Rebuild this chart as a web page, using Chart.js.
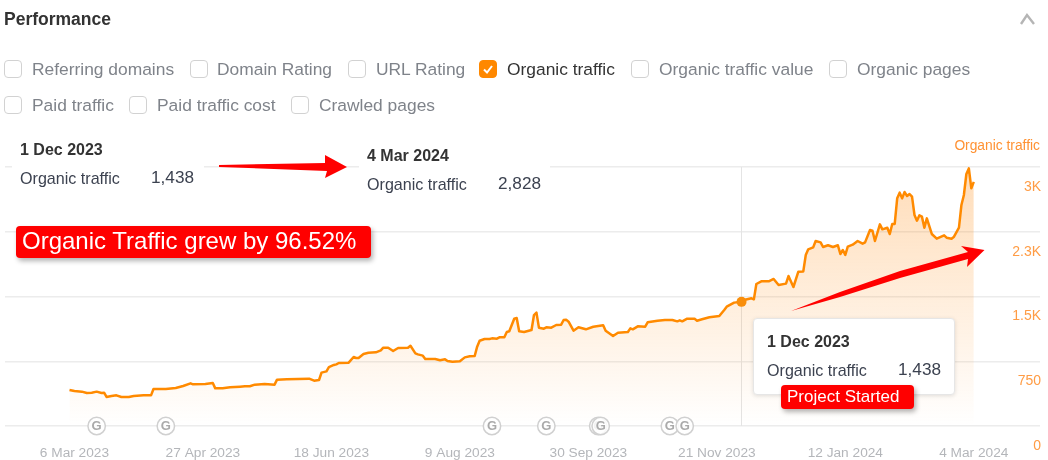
<!DOCTYPE html>
<html><head><meta charset="utf-8">
<script src="https://cdn.jsdelivr.net/npm/chart.js@4/dist/chart.umd.min.js"></script>
<style>
html,body{margin:0;padding:0;background:#fff;width:1048px;height:460px;overflow:hidden;font-family:"Liberation Sans",Arial,sans-serif}
#wrap{position:relative;width:1048px;height:460px}
canvas{position:absolute;left:0;top:0}
.t{position:absolute;white-space:nowrap;line-height:1;transform:translateY(-50%)}
.cb{position:absolute;width:16px;height:16px;border:1px solid #d2d2d2;border-radius:4px;background:#fff}
.lab{font-size:17.4px;color:#7f838a}
.mask{position:absolute;background:#fff}
.b{font-weight:bold;font-size:16px;color:#333}
.n{font-size:16.1px;color:#3c4250}
.v{font-size:17.2px;color:#3c4250}
.red{position:absolute;background:#f00;color:#fff;border-radius:4px;box-shadow:2px 3px 5px rgba(0,0,0,.3);white-space:nowrap}
svg{position:absolute;left:0;top:0}
</style></head><body><div id="wrap">
<canvas id="c" width="1048" height="460"></canvas>
<div class="mask" style="left:12px;top:135px;width:192px;height:55px"></div>
<div class="mask" style="left:359px;top:145px;width:191px;height:55px"></div>
<div class="t" style="left:4px;top:20px;font-size:17.5px;font-weight:bold;color:#333">Performance</div>
<svg width="1048" height="460"><polyline points="1021,24 1027,15 1034,24" fill="none" stroke="#b5b5b5" stroke-width="2.4"/></svg>
<div id="boxes"></div>
<div class="t" style="right:8px;top:146px;font-size:13.8px;color:#ff9233">Organic traffic</div>
<div class="t b" style="left:20px;top:150px">1 Dec 2023</div>
<div class="t n" style="left:20px;top:178px">Organic traffic</div>
<div class="t v" style="left:151px;top:178px">1,438</div>
<div class="t b" style="left:367px;top:156px">4 Mar 2024</div>
<div class="t n" style="left:367px;top:184px">Organic traffic</div>
<div class="t v" style="left:498px;top:184px">2,828</div>
<div style="position:absolute;left:753px;top:318px;width:200px;height:75px;background:#fff;border:1px solid #e6e6e6;border-radius:4px;box-shadow:0 1px 4px rgba(0,0,0,.12)"></div>
<div class="t b" style="left:767px;top:342px">1 Dec 2023</div>
<div class="t n" style="left:767px;top:370px">Organic traffic</div>
<div class="t v" style="left:898px;top:370px">1,438</div>
<div class="red" style="left:781px;top:385px;width:133px;height:24px;line-height:23px;font-size:17px;text-indent:6px">Project Started</div>
<div class="red" style="left:16px;top:226px;width:355px;height:32px;line-height:30px;font-size:24px;text-indent:6px">Organic Traffic grew by 96.52%</div>
<svg width="1048" height="460">
<polygon fill="#f00" points="219,165 325,163 325,155 347,167 325,178 327,171 219,167"/>
<polygon fill="#f00" points="791,311 840,292 900,271 968,252 961,246 984.5,250 967,267 968,259 900,278 840,297"/>
</svg>
</div>
<script>
const checkboxLabels = ["Referring domains","Domain Rating","URL Rating","Organic traffic","Organic traffic value","Organic pages","Paid traffic","Paid traffic cost","Crawled pages"];
const checkedLabel = "Organic traffic";
const dayTicks = [0,52,104,156,208,260,312,364];
const tickLabels = ["6 Mar 2023","27 Apr 2023","18 Jun 2023","9 Aug 2023","30 Sep 2023","21 Nov 2023","12 Jan 2024","4 Mar 2024"];
const valueTicks = [0,750,1500,2250,3000];
const valueTickLabels = ["0","750","1.5K","2.3K","3K"];
const updateDays = [9,37,169,191,212,213,241,247];
const dayOffsets = [
-2,0,3,5,7,9,11,12,13,15,17,19,22,24,28,31,32,37,41,44,
47,48,53,56,57,60,63,67,69,71,73,77,81,82,86,95,97,99,100,102,
103,105,106,107,111,113,114,115,117,119,122,124,125,127,129,131,135,136,138,139,
141,142,146,148,150,151,153,156,158,160,162,163,164,166,168,169,171,172,174,175,
176,178,179,180,182,185,186,187,188,190,191,193,195,197,198,199,200,202,204,207,
210,214,215,218,220,224,225,226,228,231,232,236,239,242,244,245,246,248,251,252,
254,257,261,263,264,267,270,271,274,275,276,278,281,283,285,288,289,291,293,295,
296,297,299,300,302,303,305,307,309,310,311,312,313,315,317,319,320,322,323,324,
326,327,329,330,331,332,333,334,335,336,337,338,339,340,341,342,343,344,345,347,
349,352,353,355,356,358,359,360,361,362,363,364];
const organicTraffic = [
417,405,398,382,386,398,382,386,336,348,355,336,336,348,355,355,429,429,440,463,
494,483,486,498,436,436,448,456,460,460,479,486,479,537,541,548,525,533,618,633,
683,707,714,730,734,799,788,788,834,849,853,876,907,907,869,903,907,930,842,830,
815,776,776,761,772,753,745,749,795,807,811,919,988,1008,1008,1015,1012,1027,1027,1089,
1097,1243,1251,1097,1089,1112,1285,1313,1139,1127,1143,1139,1170,1174,1228,1232,1208,1104,1143,1120,
1150,1166,1104,1042,1081,1089,1131,1120,1154,1150,1201,1220,1228,1228,1212,1224,1212,1243,1243,1220,
1236,1259,1274,1344,1382,1429,1438,1459,1479,1467,1645,1676,1676,1703,1633,1649,1737,1610,1788,1791,
1981,2046,2069,2143,2127,2073,2093,2073,2093,1992,2039,1981,2077,2100,2143,2112,2127,2270,2262,2143,
2336,2278,2297,2224,2340,2340,2637,2703,2637,2710,2664,2687,2656,2444,2378,2440,2425,2297,2405,2224,
2170,2208,2181,2170,2193,2297,2560,2676,2919,2984,2753,2828];
const hoverDay = 270, hoverValue = 1438;

const boxLefts = [4,190,348,479,631,829,4,129,291];
const textLefts = [32,217,376,507,659,857,32,157,319];
const boxes = document.getElementById('boxes');
checkboxLabels.forEach((l,i)=>{
  const top = i<6?60:96, on = l===checkedLabel;
  boxes.insertAdjacentHTML('beforeend',
   `<div class="cb" style="left:${boxLefts[i]}px;top:${top}px;${on?'background:#ff8800;border-color:#ff8800':''}">${on?'<svg width="16" height="16"><polyline points="4,8.5 7,11.5 12,5" fill="none" stroke="#fff" stroke-width="2"/></svg>':''}</div>
    <div class="t lab" style="left:${textLefts[i]}px;top:${top+10}px;${on?'color:#333':''}">${l}</div>`);
});

const overlay = {
  id:'overlay',
  beforeDatasetsDraw(ch){
    const c=ch.ctx,x=ch.scales.x.getPixelForValue(hoverDay),a=ch.chartArea;
    c.save();c.strokeStyle='#e4e4e4';c.lineWidth=1;c.beginPath();c.moveTo(Math.round(x)-.5,a.top);c.lineTo(Math.round(x)-.5,a.bottom);c.stroke();c.restore();
  },
  afterDatasetsDraw(ch){
    const c=ch.ctx,y=ch.scales.y.getPixelForValue(0);
    updateDays.forEach(d=>{
      const x=ch.scales.x.getPixelForValue(d);
      c.save();c.beginPath();c.arc(x,y,8.7,0,Math.PI*2);c.fillStyle='rgba(255,255,255,.85)';c.fill();
      c.strokeStyle='#d0d0d0';c.lineWidth=1.5;c.stroke();
      c.fillStyle='#aaa';c.font='bold 13px "Liberation Sans"';c.textAlign='center';c.textBaseline='middle';c.fillText('G',x,y+.5);c.restore();
    });
  }
};
new Chart(document.getElementById('c'),{
  type:'line',
  plugins:[overlay],
  data:{datasets:[
    {data:[{x:hoverDay,y:hoverValue}],pointRadius:5,pointBackgroundColor:'#f98e0b',pointBorderWidth:0,showLine:false,order:0},
    {data:dayOffsets.map((d,i)=>({x:d,y:organicTraffic[i]})),borderColor:'#ff8a00',borderWidth:2.5,pointRadius:0,tension:0,fill:'origin',order:1,
     borderJoinStyle:'round',
     backgroundColor(ctx){
       const a=ctx.chart.chartArea; if(!a) return 'transparent';
       const g=ctx.chart.ctx.createLinearGradient(0,a.top,0,a.bottom);
       g.addColorStop(0,'rgba(255,140,20,.30)');g.addColorStop(1,'rgba(255,140,20,0)');return g;
     }}
  ]},
  options:{
    responsive:false,animation:false,devicePixelRatio:1,
    layout:{padding:{left:4,right:8,top:167,bottom:0}},
    plugins:{legend:{display:false},tooltip:{enabled:false}},
    events:[],
    scales:{
      x:{type:'linear',min:-28.1,max:390.8,
        grid:{display:false},border:{display:false},
        afterBuildTicks(s){s.ticks=dayTicks.map(v=>({value:v}));},
        afterFit(s){s.height=34;s.paddingLeft=0;s.paddingRight=0;},
        ticks:{autoSkip:false,maxRotation:0,padding:11,color:'#b4b6ba',font:{family:'"Liberation Sans"',size:13.7},
          callback:v=>{const i=dayTicks.indexOf(v);return i<0?'':tickLabels[i];}}},
      y:{position:'right',min:0,max:3000,
        grid:{color:'#ececec',lineWidth:1.5,drawTicks:false},border:{display:false},
        afterBuildTicks(s){s.ticks=valueTicks.map(v=>({value:v}));},
        afterFit(s){s.width=0;s.paddingTop=0;s.paddingBottom=0;},
        ticks:{mirror:true,padding:1,labelOffset:20,color:'#ff9c45',font:{family:'"Liberation Sans"',size:14},
          callback:v=>{const i=valueTicks.indexOf(v);return i<0?'':valueTickLabels[i];}}}
    }
  }
});
</script></body></html>
